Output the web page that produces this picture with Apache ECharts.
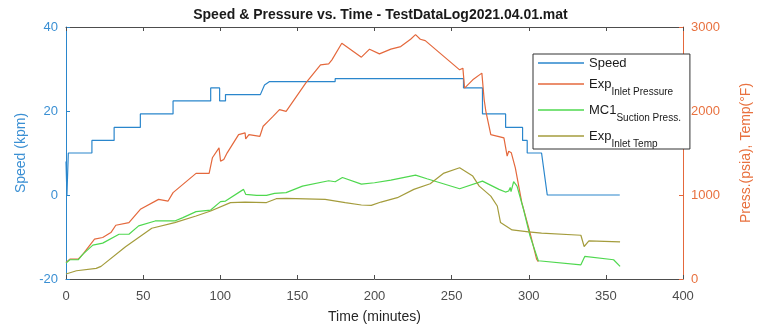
<!DOCTYPE html>
<html><head><meta charset="utf-8">
<script src="https://cdn.jsdelivr.net/npm/echarts@6/dist/echarts.min.js"></script>
<style>html,body{margin:0;padding:0;background:#fff}#c{width:761px;height:329px}</style>
</head><body><div id="c"></div>
<script>
// ---- data (time in minutes) ----
const speedT = [0, 0.6, 1.5, 16.8, 16.8, 31.2, 31.2, 48.2, 48.2, 69.4, 69.4, 93.8, 93.8, 99.6, 99.6, 103.4, 103.4, 126, 128.7, 132, 174.5, 174.5, 257.7, 257.7, 270, 270, 285, 285, 296, 296, 299, 299, 308.3, 312, 359];
const speedV = [8, 0, 10, 10, 13, 13, 16.1, 16.1, 19.3, 19.3, 22.4, 22.4, 25.5, 25.5, 22.4, 22.4, 23.9, 23.9, 26.2, 27.0, 27.0, 27.7, 27.7, 25.5, 25.5, 19.3, 19.3, 16.1, 16.1, 13, 13, 10, 10, 0, 0];

const pressT = [0, 2.5, 7.9, 11, 18.5, 23.8, 29.1, 32.3, 40.8, 48.2, 60, 66.2, 69.4, 84.3, 92.8, 94.9, 99.2, 100.2, 102.3, 104.5, 111.9, 116.1, 116.5, 118.6, 125.7, 127.8, 131, 134.2, 138.4, 142.7, 155.4, 165, 170.3, 172.4, 178.8, 191.5, 196.8, 203.2, 210.6, 217, 223.4, 226.6, 229.7, 232.9, 255.2, 257.3, 258.4, 263.7, 269.6, 270, 271.1, 272.2, 275.4, 283.9, 286, 287, 288.7, 291.3, 295.5, 300.8, 305.1, 306.2];
const pressV = [197, 237, 237, 296, 474, 494, 553, 640, 672, 830, 948, 928, 1028, 1257, 1257, 1443, 1561, 1403, 1423, 1502, 1719, 1739, 1668, 1719, 1699, 1818, 1877, 1936, 2016, 1996, 2332, 2549, 2561, 2609, 2807, 2641, 2736, 2680, 2736, 2767, 2854, 2909, 2854, 2838, 2490, 2510, 2273, 2371, 2451, 2458, 2134, 1996, 1719, 1680, 1462, 1521, 1502, 1324, 909, 553, 237, 205];

const suctT = [0, 2.5, 7.9, 11, 17.4, 23.8, 34.4, 40.8, 47.1, 57.8, 70.5, 75.8, 84.3, 93.8, 100.2, 103.4, 115.1, 116.5, 123.6, 130, 135.2, 142.7, 153.3, 170.3, 174.5, 179.2, 191.5, 200, 210.6, 226.6, 234, 255.2, 270, 280.7, 284.9, 287, 288, 288.5, 290.2, 292.4, 296.6, 300.8, 306.2, 333.8, 336.3, 355, 359.2];
const suctV = [189, 229, 229, 296, 403, 427, 533, 533, 632, 691, 691, 731, 802, 821, 921, 928, 1067, 1008, 996, 996, 1020, 1028, 1106, 1170, 1158, 1209, 1130, 1146, 1177, 1237, 1194, 1075, 1165, 1067, 1035, 1047, 1090, 1040, 1158, 1106, 830, 513, 217, 169, 269, 229, 150];

const tempT = [0, 6.8, 19.6, 22.7, 38.6, 55.6, 70.5, 84.3, 93.8, 106.6, 116.1, 130, 136.3, 142.7, 168, 181, 191.5, 197.9, 204.2, 214.8, 225.5, 236.1, 244.6, 255.2, 263.7, 267.9, 275.4, 279.6, 281.7, 289.2, 299.8, 308.3, 333.8, 335.9, 339, 359.2];
const tempV = [59, 98, 126, 150, 383, 604, 672, 750, 810, 909, 916, 910, 956, 960, 948, 909, 881, 877, 916, 968, 1067, 1134, 1257, 1324, 1225, 1106, 987, 869, 672, 584, 561, 545, 521, 387, 454, 442];

const xTicks = [0, 50, 100, 150, 200, 250, 300, 350, 400];
const seriesNames = ['Speed', 'Exp Inlet Pressure', 'MC1 Suction Press.', 'Exp Inlet Temp'];

const zip = (t, v) => t.map((x, i) => [x, v[i]]);
const FONT = '"Liberation Sans", Arial, Helvetica, sans-serif';
const BLUE = '#2a86cc', ORANGE = '#e4683c', GREEN = '#4fd84f', OLIVE = '#a49c3c';
const BLUE_T = '#3a8fd3', ORANGE_T = '#e8713f', GRAY = '#4d4d4d';

const legendText = {
  'Speed': '{p|Speed}',
  'Exp Inlet Pressure': '{m|Exp}{s|Inlet Pressure}',
  'MC1 Suction Press.': '{m|MC1}{s|Suction Press.}',
  'Exp Inlet Temp': '{m|Exp}{s|Inlet Temp}'
};

const chart = echarts.init(document.getElementById('c'), null, {renderer: 'canvas'});
chart.setOption({
  animation: false,
  backgroundColor: '#fff',
  title: {
    text: 'Speed & Pressure vs. Time - TestDataLog2021.04.01.mat',
    left: 'center', top: 3,
    textStyle: {fontFamily: FONT, fontSize: 14, fontWeight: 'bold', color: '#1a1a1a'}
  },
  grid: {left: 66, right: 67, top: 27, bottom: 49, containLabel: false},
  legend: {
    orient: 'vertical', left: 533, top: 54,
    padding: [1, 9, 0, 5], itemGap: 0,
    itemWidth: 46, itemHeight: 1.5, icon: 'rect',
    backgroundColor: '#fff', borderColor: '#333', borderWidth: 1,
    data: seriesNames,
    formatter: n => legendText[n],
    textStyle: {
      fontFamily: FONT, fontSize: 13, color: '#1a1a1a', lineHeight: 26,
      rich: {
        p: {fontFamily: FONT, fontSize: 13, color: '#1a1a1a', lineHeight: 16, verticalAlign: 'middle'},
        m: {fontFamily: FONT, fontSize: 13, color: '#1a1a1a', verticalAlign: 'middle'},
        s: {fontFamily: FONT, fontSize: 10, color: '#1a1a1a', height: 10, verticalAlign: 'bottom'}
      }
    }
  },
  xAxis: [{
    type: 'value', min: 0, max: 400, interval: 50, position: 'bottom',
    name: 'Time (minutes)', nameLocation: 'middle', nameGap: 31,
    nameTextStyle: {fontFamily: FONT, fontSize: 14, color: '#262626'},
    axisLine: {show: true, onZero: false, lineStyle: {color: GRAY, width: 1}},
    axisTick: {show: true, inside: true, length: 4, lineStyle: {color: GRAY}},
    axisLabel: {fontFamily: FONT, fontSize: 13, color: GRAY, margin: 11,
      formatter: v => xTicks.includes(v) ? String(v) : ''},
    splitLine: {show: false}
  }, {
    type: 'value', min: 0, max: 400, interval: 50, position: 'top',
    axisLine: {show: true, onZero: false, lineStyle: {color: GRAY, width: 1}},
    axisTick: {show: true, inside: true, length: 4, lineStyle: {color: GRAY}},
    axisLabel: {show: false}, splitLine: {show: false}
  }],
  yAxis: [{
    type: 'value', min: -20, max: 40, interval: 20, position: 'left',
    name: 'Speed (kpm)', nameLocation: 'middle', nameGap: 33, nameRotate: 90,
    nameTextStyle: {fontFamily: FONT, fontSize: 14, color: BLUE_T},
    axisLine: {show: true, onZero: false, lineStyle: {color: BLUE, width: 1}},
    axisTick: {show: true, inside: true, length: 4, lineStyle: {color: BLUE}},
    axisLabel: {fontFamily: FONT, fontSize: 13, color: BLUE_T, margin: 8},
    splitLine: {show: false}
  }, {
    type: 'value', min: 0, max: 3000, interval: 1000, position: 'right',
    name: 'Press.(psia), Temp(°F)', nameLocation: 'middle', nameGap: 56, nameRotate: 90,
    nameTextStyle: {fontFamily: FONT, fontSize: 14, color: ORANGE_T},
    axisLine: {show: true, onZero: false, lineStyle: {color: ORANGE, width: 1}},
    axisTick: {show: true, inside: true, length: 4, lineStyle: {color: ORANGE}},
    axisLabel: {fontFamily: FONT, fontSize: 13, color: ORANGE_T, margin: 8, formatter: v => String(v)},
    splitLine: {show: false}
  }],
  series: [
    {name: seriesNames[0], type: 'line', yAxisIndex: 0, showSymbol: false, symbol: 'none',
     data: zip(speedT, speedV), lineStyle: {color: BLUE, width: 1.2}, itemStyle: {color: BLUE}},
    {name: seriesNames[1], type: 'line', yAxisIndex: 1, showSymbol: false, symbol: 'none',
     data: zip(pressT, pressV), lineStyle: {color: ORANGE, width: 1.2}, itemStyle: {color: ORANGE}},
    {name: seriesNames[2], type: 'line', yAxisIndex: 1, showSymbol: false, symbol: 'none',
     data: zip(suctT, suctV), lineStyle: {color: GREEN, width: 1.2}, itemStyle: {color: GREEN}},
    {name: seriesNames[3], type: 'line', yAxisIndex: 1, showSymbol: false, symbol: 'none',
     data: zip(tempT, tempV), lineStyle: {color: OLIVE, width: 1.2}, itemStyle: {color: OLIVE}}
  ]
});
</script>
</body></html>
